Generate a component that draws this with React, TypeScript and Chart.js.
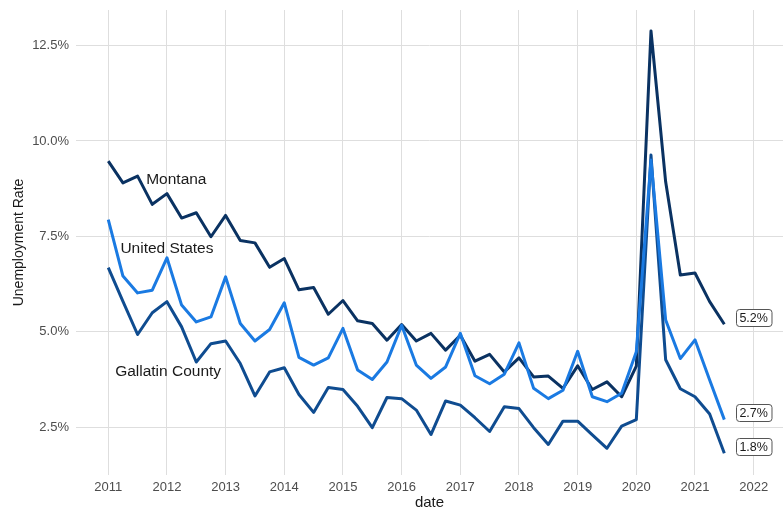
import React, { useEffect, useRef } from "react";
import { Chart, registerables } from "chart.js";

Chart.register(...registerables);

const dates = [
  2011, 2011.25, 2011.5, 2011.75, 2012, 2012.25, 2012.5, 2012.75,
  2013, 2013.25, 2013.5, 2013.75, 2014, 2014.25, 2014.5, 2014.75,
  2015, 2015.25, 2015.5, 2015.75, 2016, 2016.25, 2016.5, 2016.75,
  2017, 2017.25, 2017.5, 2017.75, 2018, 2018.25, 2018.5, 2018.75,
  2019, 2019.25, 2019.5, 2019.75, 2020, 2020.25, 2020.5, 2020.75,
  2021, 2021.25, 2021.5,
];

const montana = [
  9.47, 8.9, 9.08, 8.34, 8.62, 7.98, 8.12, 7.49,
  8.05, 7.39, 7.33, 6.69, 6.92, 6.1, 6.16, 5.46,
  5.82, 5.29, 5.22, 4.78, 5.19, 4.76, 4.96, 4.52,
  4.91, 4.23, 4.41, 3.95, 4.32, 3.82, 3.84, 3.52,
  4.11, 3.49, 3.69, 3.3, 4.1, 12.88, 8.93, 6.49,
  6.54, 5.79, 5.2,
];

const unitedStates = [
  7.94, 6.46, 6.02, 6.09, 6.94, 5.7, 5.26, 5.39,
  6.44, 5.22, 4.76, 5.06, 5.76, 4.33, 4.13, 4.32,
  5.09, 4.0, 3.75, 4.21, 5.17, 4.13, 3.78, 4.08,
  4.96, 3.85, 3.64, 3.89, 4.71, 3.52, 3.25, 3.47,
  4.49, 3.3, 3.17, 3.39, 4.48, 9.5, 5.31, 4.3,
  4.79, 3.74, 2.7,
];

const gallatin = [
  6.68, 5.8, 4.93, 5.5, 5.79, 5.13, 4.21, 4.69,
  4.76, 4.17, 3.32, 3.95, 4.06, 3.36, 2.89, 3.54,
  3.49, 3.05, 2.49, 3.28, 3.25, 2.95, 2.31, 3.19,
  3.08, 2.75, 2.39, 3.04, 2.99, 2.49, 2.05, 2.66,
  2.66, 2.3, 1.95, 2.53, 2.7, 9.63, 4.27, 3.51,
  3.3, 2.85, 1.82,
];

const xTicks = [2011, 2012, 2013, 2014, 2015, 2016, 2017, 2018, 2019, 2020, 2021, 2022];
const yTicks = [2.5, 5.0, 7.5, 10.0, 12.5];

const seriesNames = ["United States", "Montana", "Gallatin County"];
const seriesColors = ["#1a7ae2", "#0a3262", "#0f4c90"];
const seriesLabelX = [2012.0, 2012.16, 2012.02];
const seriesLabelY = [7.17, 8.98, 3.95];
const endLabelX = 2022;
const endLabelText = ["2.7%", "5.2%", "1.8%"];

const FONT = "'Liberation Sans', Arial, sans-serif";

const toPoints = (vals: number[]) => vals.map((v, i) => ({ x: dates[i], y: v }));

const annotationPlugin = {
  id: "annots",
  afterDatasetsDraw(chart: any) {
    const { ctx, scales } = chart;
    const xs = scales.x;
    const ys = scales.y;
    ctx.save();
    ctx.font = `15.5px ${FONT}`;
    ctx.fillStyle = "#1a1a1a";
    ctx.textAlign = "center";
    ctx.textBaseline = "middle";
    seriesNames.forEach((name, i) => {
      ctx.fillText(name, xs.getPixelForValue(seriesLabelX[i]), ys.getPixelForValue(seriesLabelY[i]));
    });
    ctx.font = `12.5px ${FONT}`;
    const series = [unitedStates, montana, gallatin];
    series.forEach((vals, i) => {
      const last = vals[vals.length - 1];
      const cx = xs.getPixelForValue(endLabelX);
      const cy = ys.getPixelForValue(last) - 7;
      const text = endLabelText[i];
      const w = ctx.measureText(text).width + 7;
      const h = 17;
      const x0 = Math.round(cx - w / 2) + 0.5;
      const y0 = Math.round(cy - h / 2) + 0.5;
      const r = 3;
      ctx.beginPath();
      ctx.moveTo(x0 + r, y0);
      ctx.lineTo(x0 + w - r, y0);
      ctx.arcTo(x0 + w, y0, x0 + w, y0 + r, r);
      ctx.lineTo(x0 + w, y0 + h - r);
      ctx.arcTo(x0 + w, y0 + h, x0 + w - r, y0 + h, r);
      ctx.lineTo(x0 + r, y0 + h);
      ctx.arcTo(x0, y0 + h, x0, y0 + h - r, r);
      ctx.lineTo(x0, y0 + r);
      ctx.arcTo(x0, y0, x0 + r, y0, r);
      ctx.closePath();
      ctx.fillStyle = "#ffffff";
      ctx.fill();
      ctx.strokeStyle = "#555555";
      ctx.lineWidth = 1;
      ctx.stroke();
      ctx.fillStyle = "#1a1a1a";
      ctx.textAlign = "center";
      ctx.textBaseline = "middle";
      ctx.fillText(text, cx, cy + 1);
    });
    ctx.restore();
  },
};

export default function App() {
  const canvasRef = useRef<HTMLCanvasElement | null>(null);

  useEffect(() => {
    document.body.style.margin = "0";
    const canvas = canvasRef.current;
    if (!canvas) return;
    const series = [unitedStates, montana, gallatin];
    const chart = new Chart(canvas, {
      type: "line",
      data: {
        datasets: series.map((vals, i) => ({
          label: seriesNames[i],
          data: toPoints(vals),
          borderColor: seriesColors[i],
          backgroundColor: seriesColors[i],
          borderWidth: 3,
          pointRadius: 0,
          pointHoverRadius: 0,
          tension: 0,
          fill: false,
          borderJoinStyle: "round" as const,
          borderCapStyle: "butt" as const,
        })),
      },
      options: {
        responsive: false,
        animation: false,
        layout: { padding: { top: 10, left: 0, right: 0, bottom: 0 } },
        plugins: {
          legend: { display: false },
          tooltip: { enabled: false },
        },
        scales: {
          x: {
            type: "linear",
            min: 2010.45,
            max: 2022.5,
            afterFit: (scale: any) => {
              scale.height = 37;
              scale.paddingLeft = 0;
              scale.paddingRight = 0;
            },
            afterBuildTicks: (scale: any) => {
              scale.ticks = xTicks.map((v) => ({ value: v }));
            },
            border: { display: false },
            grid: { color: "#dedede", lineWidth: 1, drawTicks: false },
            ticks: {
              color: "#4d4d4d",
              font: { family: FONT, size: 13 },
              padding: 5,
              maxRotation: 0,
              autoSkip: false,
              callback: (v: any) => String(v),
            },
            title: {
              display: true,
              text: "date",
              color: "#1a1a1a",
              font: { family: FONT, size: 15 },
              padding: { top: 0, bottom: 0 },
            },
          },
          y: {
            type: "linear",
            min: 1.25,
            max: 13.43,
            afterFit: (scale: any) => {
              scale.width = 76;
              scale.paddingTop = 0;
              scale.paddingBottom = 0;
            },
            afterBuildTicks: (scale: any) => {
              scale.ticks = yTicks.map((v) => ({ value: v }));
            },
            border: { display: false },
            grid: { color: "#dedede", lineWidth: 1, drawTicks: false },
            ticks: {
              color: "#4d4d4d",
              font: { family: FONT, size: 13 },
              padding: 7,
              callback: (v: any) => Number(v).toFixed(1) + "%",
            },
            title: {
              display: true,
              text: "Unemployment Rate",
              color: "#1a1a1a",
              font: { family: FONT, size: 14 },
              padding: { top: 11, bottom: 0 },
            },
          },
        },
      },
      plugins: [annotationPlugin],
    });
    return () => chart.destroy();
  }, []);

  return (
    <div style={{ width: 783, height: 512 }}>
      <canvas ref={canvasRef} width={783} height={512} style={{ display: "block" }} />
    </div>
  );
}
